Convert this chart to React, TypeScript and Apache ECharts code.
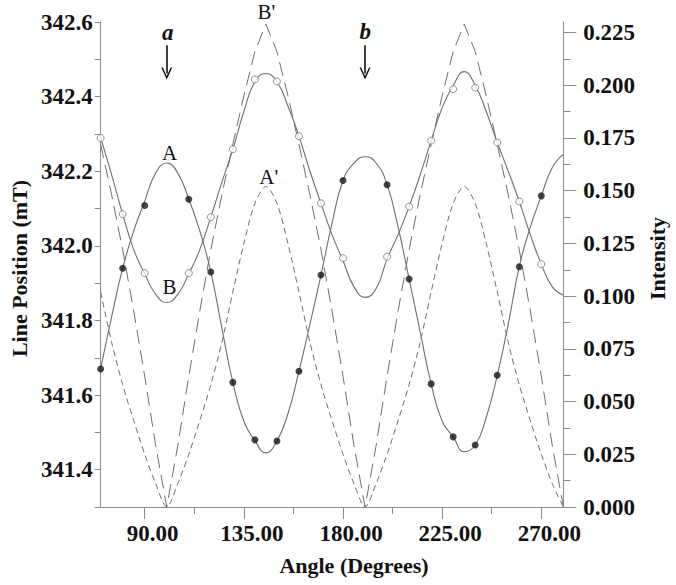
import React, { useEffect, useRef } from "react";
import * as echarts from "echarts";

// ---- data ----
const curveAngles = [70, 75, 80, 85, 90, 95, 100, 105, 110, 115, 120, 125, 130, 135, 140, 145, 150, 155, 160, 165, 170, 175, 180, 185, 190, 195, 200, 205, 210, 215, 220, 225, 230, 235, 240, 245, 250, 255, 260, 265, 270, 275, 280];

// solid curve A (line position, mT)
const curveA = [341.67, 341.81, 341.94, 342.04, 342.12, 342.195, 342.222, 342.195, 342.125, 342.04, 341.93, 341.78, 341.634, 341.53, 341.478, 341.445, 341.477, 341.55, 341.664, 341.79, 341.922, 342.06, 342.175, 342.222, 342.239, 342.222, 342.164, 342.05, 341.911, 341.77, 341.63, 341.53, 341.488, 341.448, 341.466, 341.54, 341.653, 341.79, 341.944, 342.05, 342.134, 342.21, 342.245];

// solid curve B (line position, mT)
const curveB = [342.29, 342.19, 342.085, 341.99, 341.925, 341.87, 341.848, 341.87, 341.925, 341.99, 342.077, 342.17, 342.259, 342.36, 342.44, 342.462, 342.44, 342.375, 342.294, 342.2, 342.114, 342.03, 341.96, 341.89, 341.862, 341.885, 341.965, 342.03, 342.105, 342.19, 342.282, 342.37, 342.43, 342.467, 342.43, 342.36, 342.277, 342.2, 342.119, 342.03, 341.951, 341.89, 341.868];

// long-dashed curve B' (intensity)
const curveBPrime = [0.172, 0.148, 0.122, 0.093, 0.062, 0.029, 0, 0.029, 0.062, 0.093, 0.122, 0.148, 0.172, 0.195, 0.216, 0.229, 0.216, 0.195, 0.172, 0.148, 0.122, 0.093, 0.062, 0.029, 0, 0.029, 0.062, 0.093, 0.122, 0.148, 0.172, 0.195, 0.216, 0.229, 0.216, 0.195, 0.172, 0.148, 0.122, 0.093, 0.062, 0.029, 0];

// short-dashed curve A' (intensity)
const curveAPrime = [0.102, 0.078, 0.058, 0.041, 0.025, 0.011, 0, 0.011, 0.025, 0.041, 0.058, 0.078, 0.102, 0.125, 0.144, 0.152, 0.144, 0.125, 0.102, 0.078, 0.058, 0.041, 0.025, 0.011, 0, 0.011, 0.025, 0.041, 0.058, 0.078, 0.102, 0.125, 0.144, 0.152, 0.144, 0.125, 0.102, 0.078, 0.058, 0.041, 0.025, 0.011, 0];

// measured points
const dotAngles = [70, 80, 90, 110, 120, 130, 140, 150, 160, 170, 180, 200, 210, 220, 230, 240, 250, 260, 270];
const dotsA = [341.67, 341.94, 342.108, 342.125, 341.93, 341.634, 341.48, 341.477, 341.664, 341.922, 342.175, 342.164, 341.911, 341.63, 341.488, 341.466, 341.653, 341.944, 342.134];
const dotsB = [342.289, 342.085, 341.927, 341.927, 342.077, 342.259, 342.446, 342.441, 342.294, 342.114, 341.967, 341.971, 342.105, 342.282, 342.42, 342.424, 342.277, 342.119, 341.951];

// ticks / labels
const xMajorTicks = [90, 135, 180, 225, 270];
const xMinorTicks = [112.5, 157.5, 202.5, 247.5];
const leftLabelValues = [341.4, 341.6, 341.8, 342.0, 342.2, 342.4, 342.6];
const leftTickValues = [341.3, 341.4, 341.5, 341.6, 341.7, 341.8, 341.9, 342.0, 342.1, 342.2, 342.3, 342.4, 342.5, 342.6];
const rightMajorTicks = [0, 0.025, 0.05, 0.075, 0.1, 0.125, 0.15, 0.175, 0.2, 0.225];
const rightMinorTicks = [0.0125, 0.0375, 0.0625, 0.0875, 0.1125, 0.1375, 0.1625, 0.1875, 0.2125];

// annotations (data coordinates)
const leftAnnotations = [
  { name: "A", coord: [101.3, 342.248] },
  { name: "B", coord: [101.2, 341.891] },
];
const rightAnnotations = [
  { name: "A'", coord: [146.3, 0.1566] },
  { name: "B'", coord: [145.2, 0.229] },
];
const arrowLetters = [
  { name: "a", coord: [100.4, 342.572] },
  { name: "b", coord: [190.1, 342.574] },
];
const arrowAngles = [100, 190];
const arrowTop = 342.538;
const arrowBottom = 342.462;

const FONT = "'Liberation Serif', 'Times New Roman', serif";
const AXIS_COLOR = "#8c8c8c";
const LINE_COLOR = "#6e6e6e";

const pairs = (xs: number[], ys: number[]) => xs.map((x, i) => [x, ys[i]]);

const labelStyle = {
  fontFamily: FONT,
  fontWeight: "bold" as const,
  fontSize: 23,
  color: "#111",
};

const chevron = "path://M0,10 L5,0 L10,10 L8.6,10 L5,3 L1.4,10 Z";

export default function App() {
  const ref = useRef<HTMLDivElement>(null);
  useEffect(() => {
    const chart = echarts.init(ref.current!, null, { renderer: "svg" });
    const option: any = {
      animation: false,
      backgroundColor: "#fff",
      grid: { left: 92, right: 99, top: 22, bottom: 78, containLabel: false },
      xAxis: [
        {
          type: "value",
          min: 70,
          max: 280,
          position: "bottom",
          axisLine: { onZero: false, lineStyle: { color: AXIS_COLOR, width: 1 } },
          axisTick: { customValues: xMajorTicks, length: 12, lineStyle: { color: AXIS_COLOR } },
          axisLabel: {
            customValues: xMajorTicks,
            formatter: (v: number) => v.toFixed(2),
            margin: 15,
            padding: [0, 0, 0, 16],
            ...labelStyle,
          },
          splitLine: { show: false },
          name: "Angle (Degrees)",
          nameLocation: "middle",
          nameGap: 47,
          nameTextStyle: { ...labelStyle, fontSize: 22, padding: [0, 0, 0, 44] },
        },
        {
          type: "value",
          min: 70,
          max: 280,
          position: "bottom",
          axisLine: { show: false, onZero: false },
          axisTick: { customValues: xMinorTicks, length: 7, lineStyle: { color: AXIS_COLOR } },
          axisLabel: { show: false },
          splitLine: { show: false },
        },
      ],
      yAxis: [
        {
          type: "value",
          min: 341.3,
          max: 342.6,
          position: "left",
          axisLine: { show: true, onZero: false, lineStyle: { color: AXIS_COLOR, width: 1 } },
          axisTick: { show: true, customValues: leftTickValues, length: 6, lineStyle: { color: AXIS_COLOR } },
          axisLabel: {
            customValues: leftLabelValues,
            formatter: (v: number) => v.toFixed(1),
            margin: 8,
            ...labelStyle,
          },
          splitLine: { show: false },
          name: "Line Position (mT)",
          nameLocation: "middle",
          nameRotate: 90,
          nameGap: 66,
          nameTextStyle: { ...labelStyle, fontSize: 22, padding: [0, 8, 0, 0] },
        },
        {
          type: "value",
          min: 0,
          max: 0.23,
          position: "right",
          axisLine: { show: true, onZero: false, lineStyle: { color: AXIS_COLOR, width: 1 } },
          axisTick: { show: true, customValues: rightMajorTicks, length: 13, lineStyle: { color: AXIS_COLOR } },
          axisLabel: {
            customValues: rightMajorTicks,
            formatter: (v: number) => v.toFixed(3),
            margin: 20,
            ...labelStyle,
          },
          splitLine: { show: false },
          name: "Intensity",
          nameLocation: "middle",
          nameRotate: 90,
          nameGap: 76,
          nameTextStyle: { ...labelStyle, fontSize: 22, padding: [0, 0, 0, 12] },
        },
        {
          type: "value",
          min: 0,
          max: 0.23,
          position: "right",
          axisLine: { show: false, onZero: false },
          axisTick: { show: true, customValues: rightMinorTicks, length: 7, lineStyle: { color: AXIS_COLOR } },
          axisLabel: { show: false },
          splitLine: { show: false },
        },
      ],
      series: [
        {
          name: "B'",
          type: "line",
          xAxisIndex: 0,
          yAxisIndex: 1,
          data: pairs(curveAngles, curveBPrime),
          showSymbol: false,
          symbol: "none",
          smooth: false,
          lineStyle: { color: LINE_COLOR, width: 1, type: [14, 7] },
          silent: true,
          z: 2,
          markPoint: {
            silent: true,
            symbol: "circle",
            symbolSize: 1,
            itemStyle: { color: "rgba(0,0,0,0)" },
            label: { show: true, position: "inside", formatter: "{b}", fontFamily: FONT, fontSize: 21, color: "#111" },
            data: [
              { name: rightAnnotations[1].name, coord: rightAnnotations[1].coord, label: { offset: [0, -12] } },
            ],
          },
        },
        {
          name: "A'",
          type: "line",
          xAxisIndex: 0,
          yAxisIndex: 1,
          data: pairs(curveAngles, curveAPrime),
          showSymbol: false,
          symbol: "none",
          smooth: 0.3,
          lineStyle: { color: LINE_COLOR, width: 1, type: [6, 4] },
          silent: true,
          z: 2,
          markPoint: {
            silent: true,
            symbol: "circle",
            symbolSize: 1,
            itemStyle: { color: "rgba(0,0,0,0)" },
            label: { show: true, position: "inside", formatter: "{b}", fontFamily: FONT, fontSize: 21, color: "#111" },
            data: [{ name: rightAnnotations[0].name, coord: rightAnnotations[0].coord }],
          },
        },
        {
          name: "A",
          type: "line",
          xAxisIndex: 0,
          yAxisIndex: 0,
          data: pairs(curveAngles, curveA),
          showSymbol: false,
          symbol: "none",
          smooth: true,
          lineStyle: { color: LINE_COLOR, width: 1.1 },
          silent: true,
          z: 3,
          markPoint: {
            silent: true,
            symbol: "circle",
            symbolSize: 1,
            itemStyle: { color: "rgba(0,0,0,0)" },
            label: { show: true, position: "inside", formatter: "{b}", fontFamily: FONT, fontSize: 21, color: "#111" },
            data: leftAnnotations.map((a) => ({ name: a.name, coord: a.coord })),
          },
          markLine: {
            silent: true,
            symbol: ["none", chevron],
            symbolSize: [11, 12],
            label: { show: false },
            lineStyle: { color: "#111", width: 1.6, type: "solid" },
            data: arrowAngles.map((x) => [{ coord: [x, arrowTop] }, { coord: [x, arrowBottom] }]),
          },
        },
        {
          name: "B",
          type: "line",
          xAxisIndex: 0,
          yAxisIndex: 0,
          data: pairs(curveAngles, curveB),
          showSymbol: false,
          symbol: "none",
          smooth: true,
          lineStyle: { color: LINE_COLOR, width: 1.1 },
          silent: true,
          z: 3,
          markPoint: {
            silent: true,
            symbol: "circle",
            symbolSize: 1,
            itemStyle: { color: "rgba(0,0,0,0)" },
            label: {
              show: true,
              position: "inside",
              formatter: "{b}",
              fontFamily: FONT,
              fontSize: 23,
              fontWeight: "bold",
              fontStyle: "italic",
              color: "#111",
            },
            data: arrowLetters.map((a) => ({ name: a.name, coord: a.coord })),
          },
        },
        {
          name: "A points",
          type: "scatter",
          xAxisIndex: 0,
          yAxisIndex: 0,
          data: pairs(dotAngles, dotsA),
          symbol: "circle",
          symbolSize: 7,
          itemStyle: { color: "#161616" },
          silent: true,
          z: 5,
        },
        {
          name: "B points",
          type: "scatter",
          xAxisIndex: 0,
          yAxisIndex: 0,
          data: pairs(dotAngles, dotsB),
          symbol: "circle",
          symbolSize: 7,
          itemStyle: { color: "#ffffff", borderColor: "#777", borderWidth: 1 },
          silent: true,
          z: 5,
        },
      ],
    };
    chart.setOption(option);
    return () => chart.dispose();
  }, []);
  return (
    <div
      ref={ref}
      style={{ position: "fixed", left: 0, top: 0, width: 676, height: 585, background: "#fff" }}
    />
  );
}
